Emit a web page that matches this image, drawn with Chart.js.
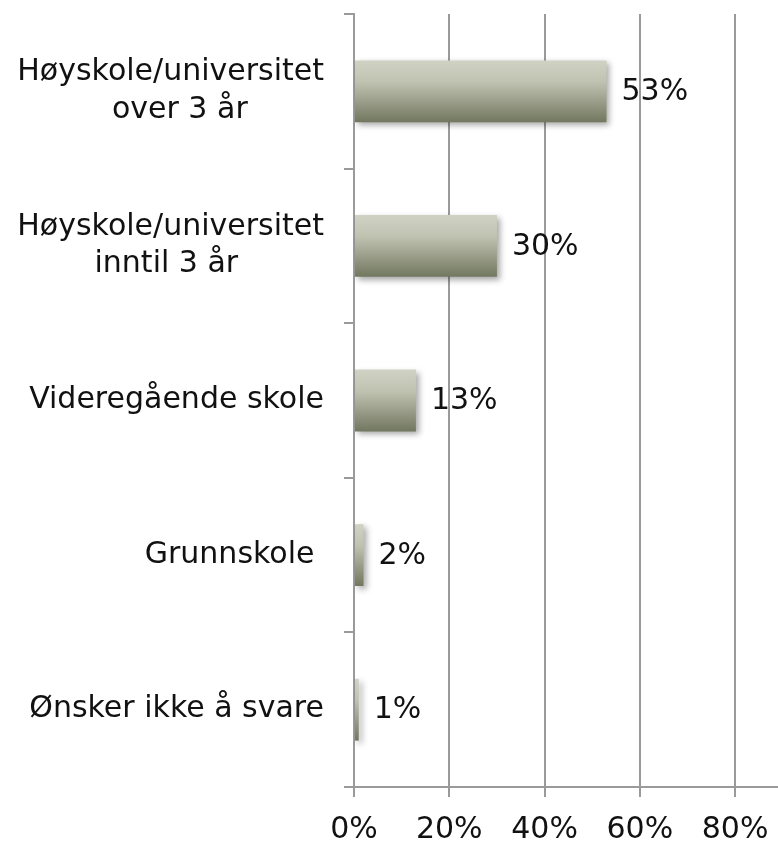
<!DOCTYPE html>
<html>
<head>
<meta charset="utf-8">
<script src="https://cdn.jsdelivr.net/npm/chart.js@4"></script>
<style>
html,body{margin:0;padding:0;background:#fff;}
#wrap{width:778px;height:844px;position:relative;}
</style>
</head>
<body>
<div id="wrap"><canvas id="c" width="778" height="844"></canvas></div>
<script>
const categories = [
  ["Høyskole/universitet", "over 3 år\u00A0\u00A0\u00A0\u00A0\u00A0\u00A0\u00A0\u00A0"],
  ["Høyskole/universitet", "inntil 3 år\u00A0\u00A0\u00A0\u00A0\u00A0\u00A0\u00A0\u00A0\u00A0"],
  "Videregående skole",
  "Grunnskole\u00A0",
  "Ønsker ikke å svare"
];
const values = [53, 30, 13, 2, 1];
const xTicks = [0, 20, 40, 60, 80];

const FONT = "'DejaVu Sans', sans-serif";
const FSIZE = 30;
const GRID = '#9a9a9a';

function barGradient(ctx) {
  const chart = ctx.chart;
  const y = chart.scales && chart.scales.y;
  if (!y || y.height === undefined) return '#9a9e8c';
  const c = y.getPixelForValue(ctx.dataIndex);
  const band = y.height / categories.length;
  const half = band * 0.4 / 2;
  const g = chart.ctx.createLinearGradient(0, c - half, 0, c + half);
  g.addColorStop(0, '#d0d2c4');
  g.addColorStop(0.35, '#c0c2b1');
  g.addColorStop(1, '#72775f');
  return g;
}

const shadowPlugin = {
  id: 'shadow',
  beforeDatasetsDraw(chart) {
    const c = chart.ctx;
    c.save();
    c.shadowColor = 'rgba(0,0,0,0.35)';
    c.shadowBlur = 6;
    c.shadowOffsetX = 3;
    c.shadowOffsetY = 3;
  },
  afterDatasetsDraw(chart) {
    chart.ctx.restore();
  }
};

const labelPlugin = {
  id: 'valueLabels',
  afterDatasetsDraw(chart) {
    const c = chart.ctx;
    const meta = chart.getDatasetMeta(0);
    c.save();
    c.font = FSIZE + 'px ' + FONT;
    c.fillStyle = '#111';
    c.textAlign = 'left';
    c.textBaseline = 'middle';
    meta.data.forEach((bar, i) => {
      c.fillText(values[i] + '%', bar.x + 15, bar.y + 1);
    });
    c.restore();
  }
};

new Chart(document.getElementById('c'), {
  type: 'bar',
  data: {
    labels: categories,
    datasets: [{
      data: values,
      backgroundColor: barGradient,
      borderWidth: 0,
      barPercentage: 0.4,
      categoryPercentage: 1.0
    }]
  },
  options: {
    indexAxis: 'y',
    responsive: false,
    animation: false,
    layout: { padding: { top: 14, right: 0, left: 0, bottom: 0 } },
    plugins: { legend: { display: false }, tooltip: { enabled: false } },
    scales: {
      x: {
        min: 0,
        max: 89,
        afterBuildTicks(scale) {
          scale.ticks = xTicks.map(v => ({ value: v }));
        },
        afterFit(scale) { scale.height = 57; scale.paddingLeft = 0; scale.paddingRight = 0; },
        ticks: {
          callback: v => v + '%',
          font: { family: FONT, size: FSIZE },
          color: '#111',
          padding: 15,
          maxRotation: 0
        },
        grid: {
          color: GRID,
          lineWidth: 2,
          tickLength: 10,
          drawTicks: true
        },
        border: { color: GRID, width: 2 }
      },
      y: {
        afterFit(scale) { scale.width = 354; scale.paddingTop = 0; scale.paddingBottom = 0; },
        ticks: {
          font: { family: FONT, size: FSIZE, lineHeight: 1.25 },
          color: '#111',
          padding: 20,
          crossAlign: 'near'
        },
        grid: {
          drawOnChartArea: false,
          color: GRID,
          lineWidth: 2,
          tickLength: 10,
          offset: true
        },
        border: { color: GRID, width: 2 }
      }
    }
  },
  plugins: [shadowPlugin, labelPlugin]
});
</script>
</body>
</html>
